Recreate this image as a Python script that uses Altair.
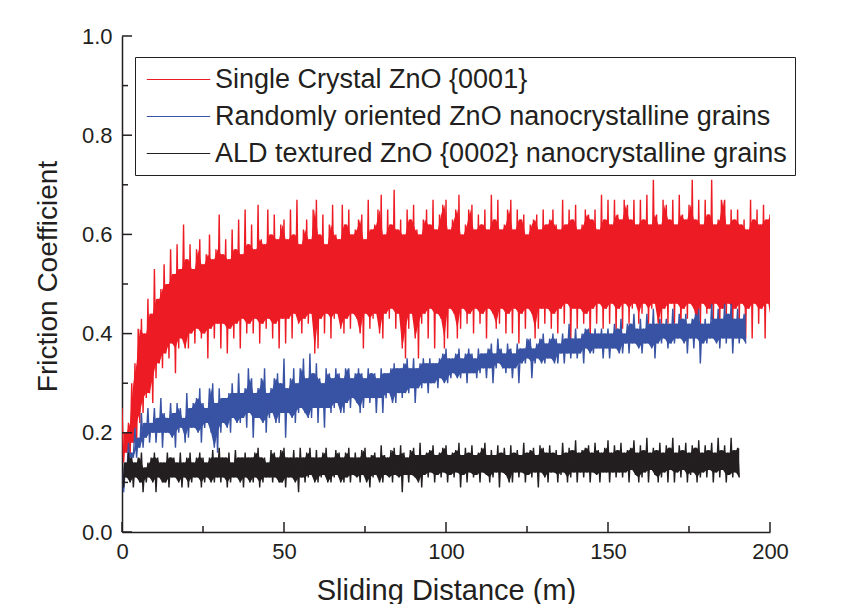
import altair as alt
import pandas as pd

FONT = "Liberation Sans"
INK = "#231f20"

SERIES = [
    "Single Crystal ZnO {0001}",
    "Randomly oriented ZnO nanocrystalline grains",
    "ALD textured ZnO {0002} nanocrystalline grains",
]
COLORS = ["#ed1c24", "#3953a4", "#231f20"]

STEP = 1.0  # metres between successive readings of the noise envelope

# ---- Single crystal: upper and lower excursions, one reading per metre (0..200 m)
red_hi = [
    0.25, 0.20, 0.22, 0.30, 0.34, 0.41, 0.43, 0.40, 0.47, 0.44,
    0.53, 0.47, 0.49, 0.54, 0.50, 0.57, 0.52, 0.58, 0.53, 0.62,
    0.55, 0.58, 0.53, 0.57, 0.59, 0.54, 0.56, 0.60, 0.55, 0.57,
    0.64, 0.56, 0.59, 0.55, 0.61, 0.57, 0.63, 0.56, 0.65, 0.58,
    0.62, 0.57, 0.66, 0.59, 0.58, 0.65, 0.60, 0.64, 0.59, 0.62,
    0.63, 0.59, 0.65, 0.60, 0.67, 0.58, 0.61, 0.63, 0.59, 0.65,
    0.67, 0.60, 0.64, 0.58, 0.62, 0.66, 0.60, 0.59, 0.66, 0.62,
    0.65, 0.60, 0.61, 0.63, 0.64, 0.59, 0.67, 0.61, 0.62, 0.65,
    0.68, 0.60, 0.65, 0.62, 0.69, 0.61, 0.63, 0.60, 0.65, 0.63,
    0.66, 0.61, 0.60, 0.63, 0.65, 0.62, 0.67, 0.61, 0.64, 0.66,
    0.67, 0.61, 0.63, 0.65, 0.68, 0.60, 0.62, 0.65, 0.66, 0.61,
    0.64, 0.62, 0.65, 0.61, 0.68, 0.63, 0.67, 0.61, 0.62, 0.65,
    0.67, 0.61, 0.65, 0.63, 0.64, 0.60, 0.62, 0.63, 0.64, 0.61,
    0.65, 0.62, 0.63, 0.65, 0.62, 0.61, 0.67, 0.62, 0.65, 0.63,
    0.66, 0.61, 0.62, 0.65, 0.64, 0.63, 0.65, 0.61, 0.68, 0.63,
    0.67, 0.62, 0.67, 0.64, 0.63, 0.67, 0.66, 0.63, 0.67, 0.62,
    0.67, 0.63, 0.68, 0.62, 0.71, 0.64, 0.62, 0.67, 0.66, 0.63,
    0.67, 0.62, 0.68, 0.64, 0.63, 0.66, 0.71, 0.63, 0.67, 0.62,
    0.67, 0.64, 0.71, 0.62, 0.63, 0.67, 0.67, 0.62, 0.65, 0.63,
    0.65, 0.62, 0.63, 0.61, 0.67, 0.63, 0.65, 0.62, 0.66, 0.63,
    0.64,
]
red_lo = [
    0.14, 0.16, 0.15, 0.18, 0.17, 0.22, 0.24, 0.27, 0.28, 0.26,
    0.31, 0.34, 0.33, 0.36, 0.35, 0.38, 0.32, 0.37, 0.39, 0.37,
    0.37, 0.40, 0.38, 0.41, 0.39, 0.40, 0.35, 0.41, 0.39, 0.42,
    0.37, 0.42, 0.36, 0.41, 0.39, 0.42, 0.37, 0.43, 0.40, 0.42,
    0.40, 0.43, 0.38, 0.42, 0.41, 0.43, 0.39, 0.42, 0.37, 0.43,
    0.38, 0.43, 0.39, 0.44, 0.42, 0.40, 0.43, 0.42, 0.44, 0.36,
    0.37, 0.43, 0.40, 0.44, 0.39, 0.43, 0.44, 0.41, 0.40, 0.43,
    0.41, 0.44, 0.43, 0.40, 0.37, 0.44, 0.41, 0.43, 0.44, 0.40,
    0.39, 0.44, 0.43, 0.45, 0.41, 0.44, 0.37, 0.35, 0.41, 0.44,
    0.39, 0.35, 0.42, 0.44, 0.39, 0.45, 0.37, 0.44, 0.43, 0.37,
    0.39, 0.45, 0.44, 0.39, 0.41, 0.45, 0.42, 0.44, 0.40, 0.45,
    0.42, 0.44, 0.39, 0.45, 0.44, 0.41, 0.42, 0.45, 0.40, 0.44,
    0.40, 0.45, 0.38, 0.44, 0.41, 0.45, 0.44, 0.39, 0.41, 0.45,
    0.42, 0.45, 0.41, 0.44, 0.40, 0.45, 0.42, 0.46, 0.38, 0.45,
    0.41, 0.45, 0.42, 0.44, 0.38, 0.45, 0.42, 0.46, 0.41, 0.45,
    0.42, 0.46, 0.40, 0.45, 0.41, 0.46, 0.42, 0.45, 0.46, 0.42,
    0.44, 0.46, 0.42, 0.45, 0.46, 0.42, 0.42, 0.45, 0.42, 0.46,
    0.42, 0.46, 0.41, 0.45, 0.43, 0.46, 0.45, 0.42, 0.41, 0.46,
    0.44, 0.45, 0.42, 0.46, 0.42, 0.45, 0.43, 0.46, 0.42, 0.45,
    0.42, 0.46, 0.39, 0.45, 0.39, 0.46, 0.42, 0.45, 0.39, 0.46,
    0.42,
]

# ---- Randomly oriented grains (0..192 m)
blue_hi = [
    0.15, 0.13, 0.18, 0.16, 0.21, 0.19, 0.24, 0.22, 0.25, 0.22,
    0.25, 0.23, 0.27, 0.24, 0.23, 0.26, 0.24, 0.26, 0.25, 0.23,
    0.28, 0.25, 0.26, 0.27, 0.29, 0.26, 0.25, 0.29, 0.30, 0.26,
    0.29, 0.27, 0.27, 0.28, 0.30, 0.28, 0.32, 0.28, 0.29, 0.33,
    0.31, 0.28, 0.29, 0.31, 0.33, 0.28, 0.29, 0.31, 0.32, 0.30,
    0.35, 0.29, 0.31, 0.33, 0.30, 0.33, 0.35, 0.31, 0.36, 0.32,
    0.34, 0.31, 0.30, 0.33, 0.32, 0.31, 0.33, 0.32, 0.31, 0.33,
    0.33, 0.31, 0.32, 0.33, 0.32, 0.31, 0.33, 0.32, 0.32, 0.31,
    0.33, 0.32, 0.32, 0.33, 0.34, 0.33, 0.33, 0.34, 0.35, 0.33,
    0.35, 0.33, 0.34, 0.35, 0.34, 0.35, 0.34, 0.34, 0.35, 0.36,
    0.37, 0.35, 0.35, 0.36, 0.37, 0.35, 0.36, 0.37, 0.36, 0.35,
    0.37, 0.36, 0.36, 0.37, 0.38, 0.36, 0.39, 0.37, 0.36, 0.38,
    0.37, 0.36, 0.38, 0.37, 0.37, 0.39, 0.39, 0.37, 0.38, 0.39,
    0.40, 0.38, 0.39, 0.40, 0.39, 0.38, 0.40, 0.39, 0.42, 0.39,
    0.41, 0.39, 0.40, 0.41, 0.41, 0.40, 0.41, 0.40, 0.41, 0.40,
    0.41, 0.40, 0.42, 0.41, 0.43, 0.40, 0.42, 0.42, 0.44, 0.41,
    0.43, 0.41, 0.44, 0.42, 0.45, 0.42, 0.43, 0.42, 0.43, 0.42,
    0.45, 0.42, 0.44, 0.43, 0.44, 0.42, 0.43, 0.44, 0.45, 0.42,
    0.43, 0.42, 0.46, 0.43, 0.45, 0.43, 0.46, 0.44, 0.46, 0.43,
    0.45, 0.43, 0.44,
]
blue_lo = [
    0.08, 0.12, 0.13, 0.15, 0.15, 0.17, 0.17, 0.19, 0.18, 0.20,
    0.18, 0.20, 0.17, 0.20, 0.20, 0.19, 0.17, 0.20, 0.21, 0.18,
    0.19, 0.21, 0.21, 0.20, 0.18, 0.21, 0.22, 0.20, 0.17, 0.16,
    0.20, 0.22, 0.21, 0.20, 0.23, 0.22, 0.22, 0.23, 0.21, 0.24,
    0.19, 0.23, 0.23, 0.22, 0.20, 0.23, 0.24, 0.22, 0.22, 0.24,
    0.19, 0.24, 0.23, 0.22, 0.24, 0.25, 0.24, 0.23, 0.23, 0.25,
    0.22, 0.25, 0.21, 0.25, 0.24, 0.25, 0.26, 0.24, 0.24, 0.26,
    0.25, 0.27, 0.26, 0.24, 0.25, 0.27, 0.26, 0.27, 0.24, 0.27,
    0.24, 0.27, 0.28, 0.26, 0.26, 0.28, 0.27, 0.28, 0.28, 0.29,
    0.26, 0.29, 0.29, 0.30, 0.28, 0.30, 0.30, 0.29, 0.31, 0.30,
    0.30, 0.31, 0.32, 0.31, 0.31, 0.32, 0.30, 0.32, 0.32, 0.31,
    0.32, 0.33, 0.31, 0.33, 0.30, 0.33, 0.34, 0.33, 0.32, 0.33,
    0.31, 0.33, 0.30, 0.34, 0.34, 0.35, 0.31, 0.34, 0.35, 0.34,
    0.34, 0.35, 0.35, 0.34, 0.34, 0.36, 0.34, 0.36, 0.35, 0.36,
    0.35, 0.36, 0.34, 0.37, 0.36, 0.36, 0.37, 0.37, 0.35, 0.37,
    0.35, 0.37, 0.37, 0.36, 0.36, 0.38, 0.36, 0.38, 0.38, 0.37,
    0.36, 0.38, 0.38, 0.37, 0.35, 0.38, 0.38, 0.39, 0.37, 0.38,
    0.38, 0.39, 0.39, 0.38, 0.36, 0.39, 0.37, 0.39, 0.34, 0.38,
    0.38, 0.39, 0.39, 0.38, 0.37, 0.39, 0.38, 0.39, 0.36, 0.39,
    0.38, 0.39, 0.38,
]

# ---- ALD textured grains (0..190 m)
black_hi = [
    0.15, 0.14, 0.16, 0.15, 0.14, 0.15, 0.16, 0.13, 0.14, 0.15,
    0.16, 0.15, 0.14, 0.14, 0.16, 0.15, 0.15, 0.14, 0.16, 0.14,
    0.15, 0.16, 0.14, 0.15, 0.16, 0.15, 0.14, 0.15, 0.165, 0.15,
    0.17, 0.15, 0.15, 0.16, 0.14, 0.165, 0.15, 0.15, 0.16, 0.15,
    0.15, 0.16, 0.17, 0.15, 0.15, 0.14, 0.165, 0.16, 0.15, 0.165,
    0.17, 0.15, 0.15, 0.165, 0.15, 0.17, 0.15, 0.16, 0.17, 0.15,
    0.165, 0.15, 0.16, 0.17, 0.15, 0.15, 0.165, 0.16, 0.15, 0.16,
    0.17, 0.15, 0.16, 0.15, 0.165, 0.17, 0.15, 0.155, 0.16, 0.15,
    0.175, 0.155, 0.15, 0.165, 0.17, 0.155, 0.175, 0.16, 0.15, 0.165,
    0.17, 0.155, 0.18, 0.155, 0.16, 0.165, 0.175, 0.155, 0.16, 0.17,
    0.175, 0.155, 0.16, 0.165, 0.18, 0.155, 0.17, 0.16, 0.175, 0.155,
    0.16, 0.17, 0.18, 0.155, 0.165, 0.155, 0.175, 0.16, 0.17, 0.155,
    0.175, 0.16, 0.165, 0.155, 0.18, 0.16, 0.165, 0.17, 0.155, 0.175,
    0.17, 0.16, 0.175, 0.16, 0.165, 0.155, 0.18, 0.16, 0.17, 0.165,
    0.185, 0.16, 0.165, 0.17, 0.175, 0.16, 0.18, 0.165, 0.16, 0.17,
    0.185, 0.16, 0.175, 0.165, 0.18, 0.16, 0.165, 0.17, 0.185, 0.16,
    0.175, 0.165, 0.19, 0.16, 0.17, 0.165, 0.18, 0.16, 0.175, 0.17,
    0.19, 0.16, 0.175, 0.165, 0.18, 0.16, 0.175, 0.17, 0.185, 0.16,
    0.175, 0.165, 0.18, 0.16, 0.19, 0.165, 0.175, 0.16, 0.19, 0.165,
    0.17,
]
black_lo = [
    0.09, 0.11, 0.10, 0.09, 0.11, 0.10, 0.08, 0.10, 0.11, 0.10,
    0.08, 0.11, 0.10, 0.10, 0.09, 0.11, 0.11, 0.10, 0.09, 0.11,
    0.09, 0.10, 0.11, 0.11, 0.09, 0.10, 0.11, 0.10, 0.10, 0.11,
    0.10, 0.11, 0.09, 0.10, 0.11, 0.11, 0.10, 0.09, 0.11, 0.10,
    0.10, 0.11, 0.09, 0.10, 0.11, 0.11, 0.10, 0.11, 0.10, 0.10,
    0.09, 0.11, 0.11, 0.10, 0.08, 0.11, 0.10, 0.11, 0.115, 0.10,
    0.10, 0.11, 0.115, 0.10, 0.10, 0.11, 0.115, 0.10, 0.10, 0.11,
    0.10, 0.115, 0.11, 0.10, 0.115, 0.10, 0.09, 0.11, 0.115, 0.10,
    0.10, 0.115, 0.11, 0.10, 0.115, 0.11, 0.08, 0.115, 0.10, 0.115,
    0.11, 0.10, 0.09, 0.115, 0.11, 0.12, 0.10, 0.115, 0.11, 0.12,
    0.10, 0.115, 0.11, 0.12, 0.09, 0.115, 0.10, 0.12, 0.11, 0.115,
    0.10, 0.12, 0.115, 0.10, 0.11, 0.12, 0.09, 0.12, 0.115, 0.10,
    0.10, 0.12, 0.11, 0.12, 0.10, 0.115, 0.11, 0.12, 0.09, 0.12,
    0.11, 0.10, 0.12, 0.12, 0.10, 0.115, 0.12, 0.10, 0.11, 0.12,
    0.10, 0.12, 0.11, 0.12, 0.10, 0.12, 0.115, 0.10, 0.12, 0.12,
    0.10, 0.12, 0.11, 0.12, 0.11, 0.12, 0.10, 0.125, 0.115, 0.10,
    0.11, 0.12, 0.10, 0.125, 0.115, 0.10, 0.11, 0.12, 0.10, 0.125,
    0.10, 0.12, 0.11, 0.125, 0.10, 0.115, 0.12, 0.10, 0.11, 0.12,
    0.11, 0.125, 0.10, 0.12, 0.11, 0.125, 0.10, 0.115, 0.11, 0.12,
    0.11,
]

# axis decorations (inward ticks), in data units
X_MAJOR = [0, 50, 100, 150, 200]
X_MINOR = [25, 75, 125, 175]
Y_MAJOR = [0.0, 0.2, 0.4, 0.6, 0.8, 1.0]
Y_MINOR = [0.1, 0.3, 0.5, 0.7, 0.9]
XTICK_LEN = {"major": 0.02, "minor": 0.012}   # in friction units
YTICK_LEN = {"major": 3.1, "minor": 1.85}     # in metres


def zigzag(name, hi, lo):
    """Trace alternating between the upper and lower readings."""
    rows = []
    for i, (h, l) in enumerate(zip(hi, lo)):
        d = i * STEP
        rows.append({"d": d, "f": h, "series": name, "k": 2 * i})
        rows.append({"d": d + STEP / 2, "f": l, "series": name, "k": 2 * i + 1})
    return pd.DataFrame(rows)


def core(hi, lo):
    """Dense part of the trace: the band two neighbouring readings both span."""
    n = min(len(hi), len(lo))
    rows = []
    for i in range(n):
        b = min(n, i + 2)
        top = min(hi[i:b])
        bot = max(lo[i:b])
        if bot > top:
            top, bot = bot, top
        rows.append({"d": i * STEP + STEP / 2, "top": top, "bot": bot})
    return pd.DataFrame(rows)


x_scale = alt.Scale(domain=[0, 200], nice=False, zero=False)
y_scale = alt.Scale(domain=[0, 1], nice=False)

color_scale = alt.Scale(domain=SERIES, range=COLORS)
legend = alt.Legend(
    orient="none", legendX=13, legendY=21, title=None,
    symbolType="M-2.35,0H2.35", symbolSize=729, symbolStrokeWidth=1.2,
    symbolOffset=21, labelOffset=22, rowPadding=9, padding=8,
    labelFontSize=27, labelFont=FONT, labelColor=INK, labelLimit=2000,
    strokeColor=INK, fillColor="white",
)

x_axis = alt.Axis(
    values=X_MAJOR, ticks=False, grid=False, labelFlush=False, labelOverlap=False,
    labelFontSize=22, labelFont=FONT, labelColor=INK, labelPadding=9,
    title="Sliding Distance (m)", titleFontSize=29, titleFont=FONT,
    titleFontWeight="normal", titleColor=INK, titlePadding=14,
    domainColor=INK, domainWidth=1.5,
)
y_axis = alt.Axis(
    values=Y_MAJOR, format=".1f", ticks=False, grid=False, labelFlush=False,
    labelOverlap=False, labelFontSize=22, labelFont=FONT, labelColor=INK,
    labelPadding=10, title="Friction Coefficient", titleFontSize=28,
    titleFont=FONT, titleFontWeight="normal", titleColor=INK, titlePadding=19,
    titleY=240, domainColor=INK, domainWidth=1.5,
)


def trace(name, color, hi, lo):
    band = alt.Chart(core(hi, lo)).mark_area(color=color, clip=True).encode(
        x=alt.X("d:Q", scale=x_scale, axis=x_axis),
        y=alt.Y("top:Q", scale=y_scale, axis=y_axis),
        y2="bot:Q",
    )
    line = alt.Chart(zigzag(name, hi, lo)).mark_line(
        strokeWidth=1.4, strokeJoin="bevel", clip=True
    ).encode(
        x=alt.X("d:Q", scale=x_scale, axis=x_axis),
        y=alt.Y("f:Q", scale=y_scale, axis=y_axis),
        color=alt.Color("series:N", scale=color_scale, legend=legend),
        order="k:Q",
    )
    return [band, line]


xt = pd.DataFrame(
    [{"x": v, "y": 0.0, "y2": XTICK_LEN["major"]} for v in X_MAJOR]
    + [{"x": v, "y": 0.0, "y2": XTICK_LEN["minor"]} for v in X_MINOR]
)
yt = pd.DataFrame(
    [{"y": v, "x": 0.0, "x2": YTICK_LEN["major"]} for v in Y_MAJOR]
    + [{"y": v, "x": 0.0, "x2": YTICK_LEN["minor"]} for v in Y_MINOR]
)

xticks = alt.Chart(xt).mark_rule(color=INK, strokeWidth=1.5).encode(
    x=alt.X("x:Q", scale=x_scale, axis=x_axis),
    y=alt.Y("y:Q", scale=y_scale, axis=y_axis),
    y2="y2:Q",
)
yticks = alt.Chart(yt).mark_rule(color=INK, strokeWidth=1.5).encode(
    y=alt.Y("y:Q", scale=y_scale, axis=y_axis),
    x=alt.X("x:Q", scale=x_scale, axis=x_axis),
    x2="x2:Q",
)

layers = (
    trace(SERIES[0], COLORS[0], red_hi, red_lo)
    + trace(SERIES[1], COLORS[1], blue_hi, blue_lo)
    + trace(SERIES[2], COLORS[2], black_hi, black_lo)
    + [xticks, yticks]
)

chart = alt.layer(*layers).properties(
    width=648,
    height=496,
    autosize=alt.AutoSizeParams(type="none"),
    padding={"left": 114, "top": 28, "right": 40, "bottom": 72},
    background="white",
).configure_view(stroke=None)

chart.save("out.html", embed_options={"renderer": "svg", "actions": False})
